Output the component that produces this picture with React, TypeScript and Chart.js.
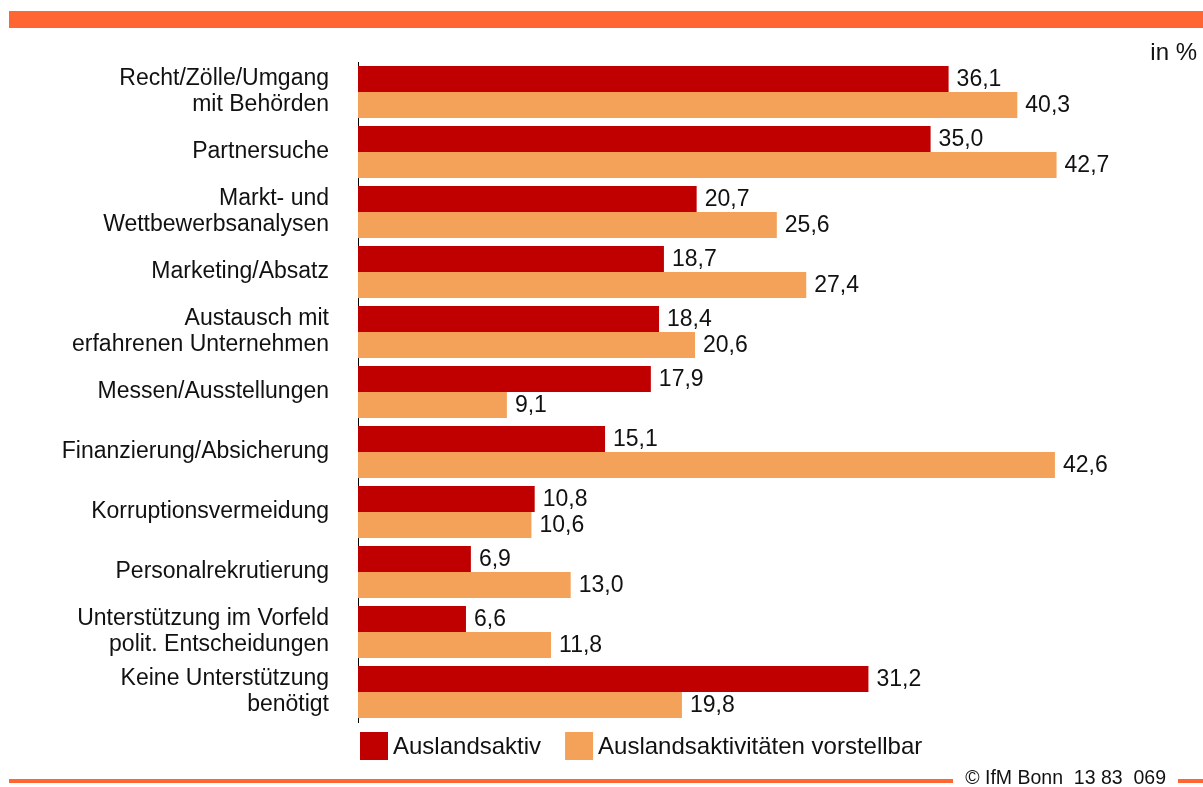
import React, { useEffect, useRef } from "react";
import { Chart, registerables } from "chart.js";

Chart.register(...registerables);

const categories: (string | string[])[] = [
  ["Recht/Zölle/Umgang", "mit Behörden"],
  "Partnersuche",
  ["Markt- und", "Wettbewerbsanalysen"],
  "Marketing/Absatz",
  ["Austausch mit", "erfahrenen Unternehmen"],
  "Messen/Ausstellungen",
  "Finanzierung/Absicherung",
  "Korruptionsvermeidung",
  "Personalrekrutierung",
  ["Unterstützung im Vorfeld", "polit. Entscheidungen"],
  ["Keine Unterstützung", "benötigt"],
];

const auslandsaktiv = [36.1, 35.0, 20.7, 18.7, 18.4, 17.9, 15.1, 10.8, 6.9, 6.6, 31.2];
const vorstellbar = [40.3, 42.7, 25.6, 27.4, 20.6, 9.1, 42.6, 10.6, 13.0, 11.8, 19.8];

const seriesNames = ["Auslandsaktiv", "Auslandsaktivitäten vorstellbar"];
const unitLabel = "in %";
const footerText = "© IfM Bonn  13 83  069";

const RED = "#C00000";
const ORANGE = "#F4A25A";
const ACCENT = "#FF6633";
const FONT = "'Liberation Sans', Arial, sans-serif";

const fmt = (v: number) => v.toFixed(1).replace(".", ",");

const decorPlugin = {
  id: "decor",
  beforeDraw(chart: any) {
    const ctx = chart.ctx as CanvasRenderingContext2D;
    const W = chart.width;
    ctx.save();
    ctx.fillStyle = "#fff";
    ctx.fillRect(0, 0, W, chart.height);
    // top band
    ctx.fillStyle = ACCENT;
    ctx.fillRect(9, 11, W - 9, 17);
    // unit label
    ctx.fillStyle = "#111";
    ctx.font = `24px ${FONT}`;
    ctx.textAlign = "right";
    ctx.textBaseline = "middle";
    ctx.fillText(unitLabel, 1197, 53);
    // footer
    ctx.font = `19.5px ${FONT}`;
    ctx.fillText(footerText, 1166, 779);
    ctx.fillStyle = ACCENT;
    ctx.fillRect(9, 779, 944, 4);
    ctx.fillRect(1178, 779, W - 1178, 4);
    ctx.restore();
  },
  afterDatasetsDraw(chart: any) {
    const ctx = chart.ctx as CanvasRenderingContext2D;
    ctx.save();
    ctx.font = `23px ${FONT}`;
    ctx.fillStyle = "#111";
    ctx.textAlign = "left";
    ctx.textBaseline = "middle";
    chart.data.datasets.forEach((ds: any, di: number) => {
      const meta = chart.getDatasetMeta(di);
      meta.data.forEach((bar: any, i: number) => {
        ctx.fillText(fmt(ds.data[i]), bar.x + 8, bar.y + 1);
      });
    });
    // legend
    ctx.font = `24px ${FONT}`;
    let x = 360;
    const y = 732;
    chart.data.datasets.forEach((ds: any) => {
      ctx.fillStyle = ds.backgroundColor;
      ctx.fillRect(x, y, 28, 28);
      ctx.fillStyle = "#111";
      ctx.fillText(ds.label, x + 33, y + 15);
      x += 33 + ctx.measureText(ds.label).width + 24;
    });
    ctx.restore();
  },
};

export default function App() {
  const ref = useRef<HTMLCanvasElement>(null);
  useEffect(() => {
    if (!ref.current) return;
    const chart = new Chart(ref.current, {
      type: "bar",
      data: {
        labels: categories,
        datasets: [
          {
            label: seriesNames[0],
            data: auslandsaktiv,
            backgroundColor: RED,
            categoryPercentage: 52 / 60,
            barPercentage: 1,
          },
          {
            label: seriesNames[1],
            data: vorstellbar,
            backgroundColor: ORANGE,
            categoryPercentage: 52 / 60,
            barPercentage: 1,
          },
        ],
      },
      options: {
        indexAxis: "y",
        animation: false,
        responsive: false,
        devicePixelRatio: 1,
        layout: { padding: { left: 0, top: 62, right: 27, bottom: 65 } },
        plugins: {
          legend: { display: false },
          tooltip: { enabled: false },
          title: { display: false },
        },
        scales: {
          x: {
            display: false,
            min: 0,
            max: 50,
          },
          y: {
            grid: { display: false, drawTicks: false },
            border: { display: true, color: "#000", width: 1 },
            ticks: {
              color: "#111",
              padding: 29,
              font: { family: FONT, size: 23, lineHeight: 1.12 },
            },
            afterFit: (scale: any) => {
              scale.width = 358;
            },
          },
        },
      },
      plugins: [decorPlugin],
    });
    return () => chart.destroy();
  }, []);
  return (
    <div style={{ position: "absolute", left: 0, top: 0, width: 1203, height: 787 }}>
      <canvas ref={ref} width={1203} height={787} style={{ width: 1203, height: 787, display: "block" }} />
    </div>
  );
}
